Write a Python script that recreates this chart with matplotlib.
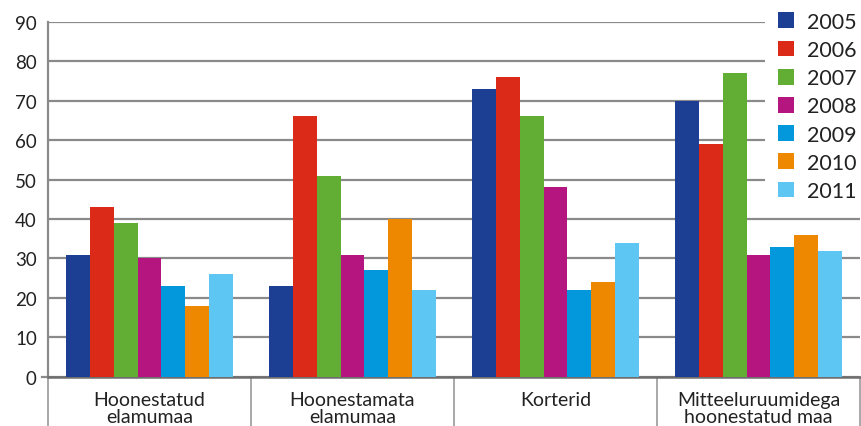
import numpy as np
import matplotlib.pyplot as plt

categories = ['Hoonestatud\nelamumaa', 'Hoonestamata\nelamumaa', 'Korterid',
              'Mitteeluruumidega\nhoonestatud maa']
years = ['2005', '2006', '2007', '2008', '2009', '2010', '2011']
v2005 = [31, 23, 73, 70]
v2006 = [43, 66, 76, 59]
v2007 = [39, 51, 66, 77]
v2008 = [30, 31, 48, 31]
v2009 = [23, 27, 22, 33]
v2010 = [18, 40, 24, 36]
v2011 = [26, 22, 34, 32]
series = [v2005, v2006, v2007, v2008, v2009, v2010, v2011]
colors = ['#1c3f94', '#dc2a19', '#62ad33', '#b5157f', '#0398db', '#ee8800', '#5dc6f2']

plt.rcParams['font.family'] = ['Lato', 'DejaVu Sans']

fig = plt.figure(figsize=(8.61, 4.27), dpi=100)
ax = fig.add_axes([0.0557, 0.115, 0.943, 0.832])

x = np.arange(len(categories))
w = 0.82 / len(years)
for i, (yr, vals) in enumerate(zip(years, series)):
    ax.bar(x + (i - 3) * w, vals, w, color=colors[i], label=yr, zorder=3, linewidth=0)

ax.set_xlim(-0.5, len(categories) - 0.5)
ax.set_ylim(0, 90)
ax.set_yticks(range(0, 91, 10))
ax.yaxis.grid(True, color='#8a8a8a', linewidth=1.6, zorder=0)
ax.set_axisbelow(True)
ax.tick_params(axis='y', length=0, labelsize=13.5, pad=8, labelcolor='#222222')

ax.set_xticks(x)
ax.set_xticklabels(categories, fontsize=14, linespacing=1.0)
ax.set_xticks(np.arange(-0.5, len(categories)), minor=True)
ax.tick_params(axis='x', which='major', length=0, pad=10, labelcolor='#222222')
ax.tick_params(axis='x', which='minor', length=60, width=1.2, color='#9a9a9a', direction='out')

for s in ['top', 'right']:
    ax.spines[s].set_visible(False)
ax.spines['left'].set_color('#8a8a8a')
ax.spines['left'].set_linewidth(1.6)
ax.spines['bottom'].set_color('#6e6e6e')
ax.spines['bottom'].set_linewidth(1.8)
ax.plot([-0.53, -0.5], [0, 0], color='#8a8a8a', lw=1.6, clip_on=False)

leg = ax.legend(loc='upper right', bbox_to_anchor=(1.012, 1.064), fontsize=15.5,
                frameon=True, facecolor='white', edgecolor='none', framealpha=1,
                handlelength=0.75, handleheight=0.75, handletextpad=0.6,
                labelspacing=0.38, borderpad=0.6, borderaxespad=0)
leg.get_frame().set_boxstyle('square', pad=0)
for t in leg.get_texts():
    t.set_color('#222222')
leg.set_zorder(5)

fig.savefig('out.png', dpi=100)
